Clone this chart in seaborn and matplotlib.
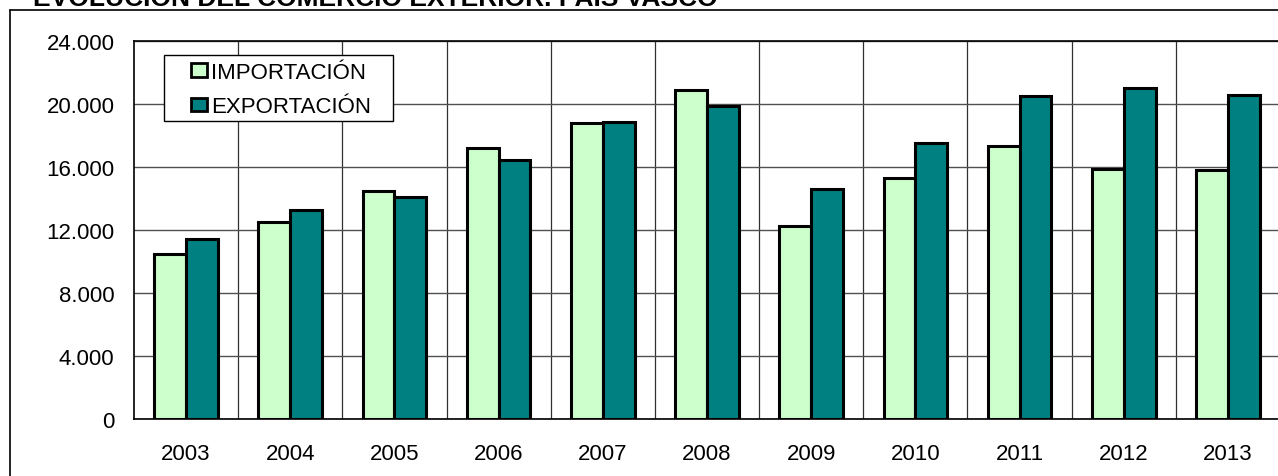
import pandas as pd
import numpy as np
import matplotlib.pyplot as plt
import seaborn as sns
from matplotlib.patches import Rectangle
from matplotlib.lines import Line2D
from matplotlib.ticker import FuncFormatter, MultipleLocator

years = ['2003', '2004', '2005', '2006', '2007', '2008', '2009', '2010', '2011', '2012', '2013']
importacion = [10450, 12510, 14480, 17180, 18770, 20870, 12280, 15280, 17330, 15890, 15790]
exportacion = [11410, 13270, 14080, 16460, 18840, 19900, 14620, 17550, 20510, 21000, 20570]
series = ['IMPORTACIÓN', 'EXPORTACIÓN']
colors = ['#CCFFCC', '#008080']

df = pd.DataFrame({
    'year': years * 2,
    'value': importacion + exportacion,
    'serie': [series[0]] * len(years) + [series[1]] * len(years),
})

sns.set_style('white')
plt.rcParams['font.family'] = ['Liberation Sans', 'DejaVu Sans']
plt.rcParams['text.color'] = 'black'
plt.rcParams['xtick.color'] = 'black'
plt.rcParams['ytick.color'] = 'black'

W, H = 1278, 477
fig = plt.figure(figsize=(W / 100, H / 100), dpi=100)
ax = fig.add_axes([134 / W, (H - 420) / H, (1280 - 134) / W, (420 - 42) / H])

sns.barplot(data=df, x='year', y='value', hue='serie', palette=colors, saturation=1,
            width=0.61, edgecolor='black', linewidth=2.2, ax=ax, legend=False,
            zorder=3)

ax.set_ylim(0, 24000)
ax.set_xlim(-0.5, len(years) - 0.5)
ax.yaxis.set_major_locator(MultipleLocator(4000))
ax.yaxis.set_major_formatter(FuncFormatter(lambda v, p: f'{int(v):,}'.replace(',', '.')))
ax.set_xticks(np.arange(-0.5, len(years)), minor=True)
ax.set_xlabel('')
ax.set_ylabel('')

ax.grid(False)
ax.yaxis.grid(True, color='#505050', linewidth=1.0, zorder=0)
for b in np.arange(0.5, len(years) - 0.5):
    ax.axvline(b, color='#303030', linewidth=0.9, zorder=0)

ax.tick_params(axis='x', which='major', length=0, pad=17, labelsize=16)
ax.tick_params(axis='x', which='minor', length=7, width=1, color='#505050', direction='out')
ax.tick_params(axis='y', length=0, pad=14, labelsize=16)

for s in ['left', 'top', 'bottom']:
    ax.spines[s].set_color('black')
    ax.spines[s].set_linewidth(1.2)
ax.spines['right'].set_visible(False)

# legend box
ax.add_patch(Rectangle((164, H - 122), 229, 66, transform=None, facecolor='white',
                       edgecolor='black', linewidth=1.0, zorder=5))
handles = [Rectangle((0, 0), 1, 1, facecolor=c, edgecolor='black', linewidth=2.0) for c in colors]
leg = ax.legend(handles, series, loc='upper left', frameon=False,
                bbox_to_anchor=((191 - 134) / (1280 - 134), (420 - 63) / 378),
                borderaxespad=0, borderpad=0, fontsize=16, handlelength=0.72,
                handleheight=0.55, handletextpad=0.2, labelspacing=0.6)
leg.set_zorder(6)

# outer frame and cut title
fig.add_artist(Line2D([10 / W, 10 / W], [0, 1 - 11 / H], color='black', linewidth=1.2))
fig.add_artist(Line2D([10 / W, 1], [1 - 11 / H, 1 - 11 / H], color='black', linewidth=1.2))
fig.text(33 / W, 1 - 6 / H, 'EVOLUCIÓN DEL COMERCIO EXTERIOR. PAÍS VASCO',
         fontsize=19, fontweight='bold', va='baseline', ha='left')

fig.savefig('out.png', dpi=100)
